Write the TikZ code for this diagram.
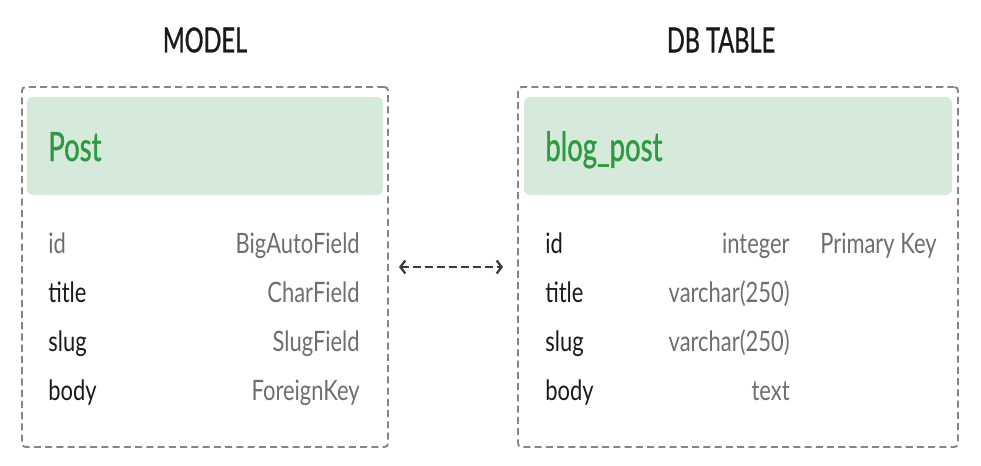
\documentclass[tikz,border=0pt]{standalone}
\usepackage{fontspec}
\setmainfont{Lato}
\newfontfamily\rowfont[FakeStretch=0.78]{Lato}
\newfontfamily\headfont[FakeStretch=0.68,FakeBold=0.9]{Lato}
\usetikzlibrary{arrows.meta}
\definecolor{hdrfill}{HTML}{D5EADA}
\definecolor{hdrtext}{HTML}{2E9940}
\definecolor{typegray}{HTML}{6E6E6E}
\definecolor{boxgray}{HTML}{858585}
\definecolor{namedark}{HTML}{1A1A1A}
\newcommand{\ArrTip}{Straight Barb[length=2.8pt,width=7.4pt,line width=1.3pt]}
\tikzset{frame/.style={draw=boxgray,line width=1.1pt,dash pattern=on 4pt off 2.4pt,rounded corners=2pt,minimum height=72mm}}
\tikzset{hdr/.style={fill=hdrfill,rounded corners=1.2mm,minimum height=19.6mm}}
\tikzset{fname/.style={anchor=base west,inner sep=0pt,text=namedark,font=\rowfont\fontsize{16}{18}\selectfont}}
\tikzset{ftype/.style={anchor=base east,inner sep=0pt,text=typegray,font=\rowfont\fontsize{16}{18}\selectfont}}
\tikzset{htitle/.style={anchor=base west,inner sep=0pt,text=hdrtext,font=\headfont\fontsize{23}{26}\selectfont}}
\tikzset{ctitle/.style={inner sep=0pt,text=namedark,font=\headfont\fontsize{19.7}{22}\selectfont}}

\begin{document}
\begin{tikzpicture}[x=0.2mm,y=-0.2mm]
\useasboundingbox (0,0) rectangle (981,465);
% model side
\node[ctitle] (mtitle) at (205,40) {MODEL};
\node[frame,minimum width=73.2mm] (model) at (205,267) {};
\node[hdr,minimum width=71.2mm] (mhdr) at (205,146) {};
\node[htitle] (mname) at (48,161) {Post};
\node[fname,text=typegray] (mid) at (48,253) {id};\node[ftype] (midt) at (360,253) {BigAutoField};
\node[fname] (mtit) at (48,302) {title};\node[ftype] (mtitt) at (360,302) {CharField};
\node[fname] (mslug) at (48,351) {slug};\node[ftype] (mslugt) at (360,351) {SlugField};
\node[fname] (mbody) at (48,400) {body};\node[ftype] (mbodyt) at (360,400) {ForeignKey};
% table side
\node[ctitle] (ttitle) at (721,40) {DB TABLE};
\node[frame,minimum width=88mm] (dbtable) at (738,267) {};
\node[hdr,minimum width=85.6mm] (thdr) at (738,146) {};
\node[htitle] (tname) at (545,161) {blog\_post};
\node[fname] (tid) at (545,253) {id};\node[ftype] (tidt) at (790,253) {integer};\node[ftype] (tidk) at (937,253) {Primary Key};
\node[fname] (ttit) at (545,302) {title};\node[ftype] (ttitt) at (790,302) {varchar(250)};
\node[fname] (tslug) at (545,351) {slug};\node[ftype] (tslugt) at (790,351) {varchar(250)};
\node[fname] (tbody) at (545,400) {body};\node[ftype] (tbodyt) at (790,400) {text};
% link
\draw[{\ArrTip}-{\ArrTip},draw=namedark!85,line width=1.2pt,dash pattern=on 4.4pt off 2.4pt,shorten <=2mm,shorten >=2.8mm] (model.east) -- (dbtable.west);
\end{tikzpicture}
\end{document}
